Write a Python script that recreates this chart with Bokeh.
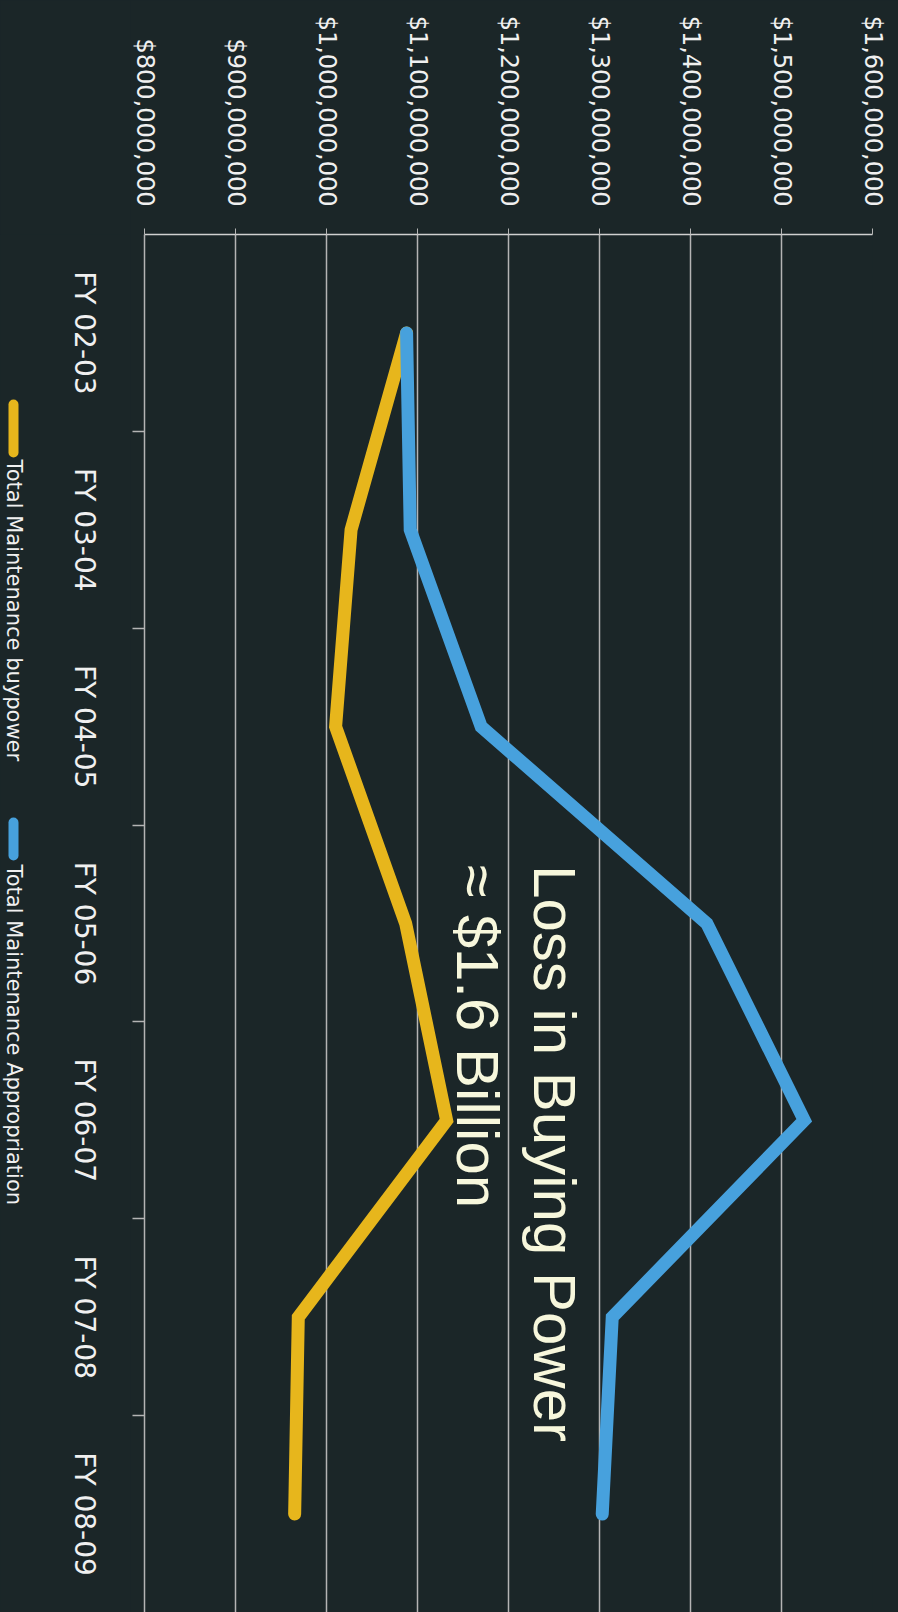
import math
from bokeh.plotting import figure
from bokeh.layouts import row
from bokeh.models import Range1d, FixedTicker, NumeralTickFormatter, ColumnDataSource
from bokeh.embed import file_html
from bokeh.resources import INLINE
from bokeh.core.properties import value

# ---------------- data ----------------
fiscal_years = ["FY 02-03", "FY 03-04", "FY 04-05", "FY 05-06", "FY 06-07", "FY 07-08", "FY 08-09"]
appropriation = [1_088_000_000, 1_092_000_000, 1_170_000_000, 1_418_000_000,
                 1_525_000_000, 1_314_000_000, 1_303_000_000]
buypower = [1_088_000_000, 1_027_000_000, 1_010_000_000, 1_087_000_000,
            1_132_000_000, 969_000_000, 965_000_000]
value_ticks = [800_000_000, 900_000_000, 1_000_000_000, 1_100_000_000, 1_200_000_000,
               1_300_000_000, 1_400_000_000, 1_500_000_000, 1_600_000_000]
series_names = ["Total Maintenance buypower", "Total Maintenance Appropriation"]
annotation_lines = ["Loss in Buying Power", "\u2248 $1.6 Billion"]

# ---------------- styles ----------------
BG = "#1b2628"
BLUE = "#47a1dd"
YELLOW = "#e7b61c"
CREAM = "#f7f7dc"
GRID = "#b4b4b4"
TXT = "#f0f0f0"
ROT = -math.pi / 2

pos = [i + 0.5 for i in range(len(fiscal_years))]
boundaries = [i for i in range(1, len(fiscal_years))]

src = ColumnDataSource(dict(pos=pos, appropriation=appropriation, buypower=buypower))
cat_src = ColumnDataSource(dict(pos=pos, label=fiscal_years))

shared_y = Range1d(len(fiscal_years), 0)

# ---------------- main chart ----------------
p = figure(width=768, height=1612,
           x_range=Range1d(value_ticks[0], value_ticks[-1]),
           y_range=shared_y,
           x_axis_location="above",
           output_backend="svg", toolbar_location=None,
           min_border_left=14, min_border_right=26, min_border_top=234, min_border_bottom=0,
           background_fill_color=BG, border_fill_color=BG, outline_line_color=None)

xa = p.xaxis[0]
xa.ticker = FixedTicker(ticks=value_ticks)
xa.formatter = NumeralTickFormatter(format="$0,0")
xa.major_tick_out = 6
xa.major_tick_in = 0
xa.minor_tick_out = 0
xa.minor_tick_in = 0
xa.major_tick_line_color = GRID
xa.axis_line_color = "#d0d0d0"
xa.axis_line_width = 1.5
xa.major_label_orientation = ROT
xa.major_label_standoff = 22
xa.major_label_text_font = "DejaVu Sans"
xa.major_label_text_font_size = "24px"
xa.major_label_text_color = TXT

ya = p.yaxis[0]
ya.ticker = FixedTicker(ticks=[], minor_ticks=boundaries)
ya.major_tick_out = 0
ya.major_tick_in = 0
ya.minor_tick_out = 12
ya.minor_tick_in = 0
ya.minor_tick_line_color = GRID
ya.minor_tick_line_width = 1.5
ya.axis_line_color = GRID
ya.axis_line_width = 1.5
ya.major_label_standoff = 0

p.xgrid.grid_line_color = GRID
p.xgrid.grid_line_width = 1.5
p.ygrid.grid_line_color = None

p.line("buypower", "pos", source=src, line_color=YELLOW, line_width=13,
       line_cap="round", line_join="miter")
p.line("appropriation", "pos", source=src, line_color=BLUE, line_width=13,
       line_cap="round", line_join="miter")

p.text(x=[1_251_000_000, 1_166_000_000], y=[3.203, 3.203], text=annotation_lines,
       angle=ROT, text_font=value("Liberation Sans"), text_font_size="60px",
       text_color=CREAM, text_align="left", text_baseline="alphabetic")

# ---------------- left strip: category labels + rotated legend ----------------
strip = figure(width=130, height=1612, x_range=Range1d(0, 130), y_range=shared_y,
               x_axis_type=None, y_axis_type=None,
               output_backend="svg", toolbar_location=None,
               min_border_left=0, min_border_right=0, min_border_top=234, min_border_bottom=0,
               background_fill_color=BG, border_fill_color=BG, outline_line_color=None)
strip.grid.visible = False
strip.extra_y_ranges = {"px": Range1d(1612, 234)}

strip.text(x=84, y="pos", text="label", source=cat_src, angle=ROT,
           text_font=value("DejaVu Sans"), text_font_size="28px", text_color=TXT,
           text_align="center", text_baseline="alphabetic")

strip.segment(x0=[13, 13], y0=[404, 822], x1=[13, 13], y1=[452, 855],
              line_color=[YELLOW, BLUE], line_width=10, line_cap="round", y_range_name="px")
strip.text(x=[13.5, 13.5], y=[459, 864], text=series_names, angle=ROT, y_range_name="px",
           text_font=value("DejaVu Sans"), text_font_size="21px", text_color=TXT,
           text_baseline="alphabetic", text_align="left")

layout = row(strip, p)
html = file_html(layout, INLINE)
html = html.replace("</head>", "<style>body{background:%s;}</style></head>" % BG, 1)
open("out.html", "w").write(html)
